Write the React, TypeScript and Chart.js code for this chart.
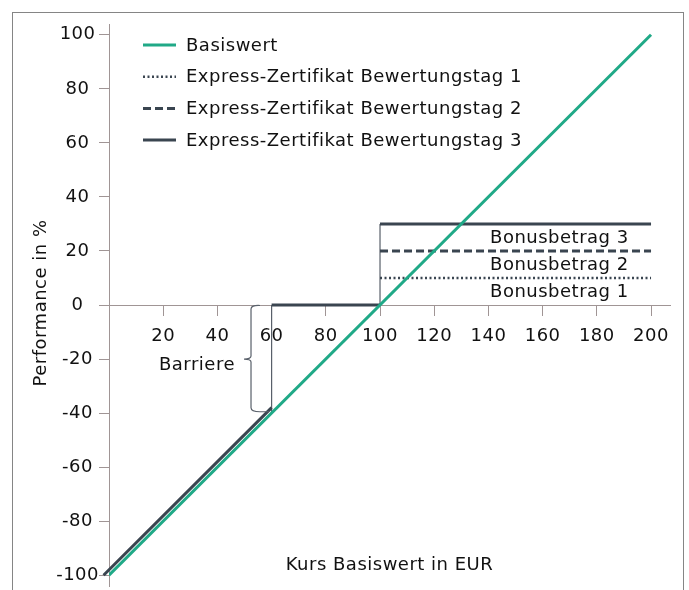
import React, { useEffect, useRef } from 'react';
import { Chart, registerables } from 'chart.js';

Chart.register(...registerables);

// ---- data ----
const seriesLabels = [
  'Basiswert',
  'Express-Zertifikat Bewertungstag 1',
  'Express-Zertifikat Bewertungstag 2',
  'Express-Zertifikat Bewertungstag 3',
];
const basiswert = [
  { x: 0, y: -100 },
  { x: 200, y: 100 },
];
const bewertungstag1 = [
  { x: 100, y: 10 },
  { x: 200, y: 10 },
];
const bewertungstag2 = [
  { x: 100, y: 20 },
  { x: 200, y: 20 },
];
const bewertungstag3 = [
  { x: -2, y: -100 },
  { x: 60, y: -38 },
  { x: 60, y: null },
  { x: 60, y: 0 },
  { x: 100, y: 0 },
  { x: 100, y: null },
  { x: 100, y: 30 },
  { x: 200, y: 30 },
];
const connectors = [
  { x: 60, y: -40 },
  { x: 60, y: 0 },
  { x: 60, y: null },
  { x: 100, y: 0 },
  { x: 100, y: 30 },
];
const xTicks = [20, 40, 60, 80, 100, 120, 140, 160, 180, 200];
const yTicks = [-100, -80, -60, -40, -20, 0, 20, 40, 60, 80, 100];
const bonusLabels = ['Bonusbetrag 1', 'Bonusbetrag 2', 'Bonusbetrag 3'];
const bonusLabelY = [5, 15, 25];
const bonusLabelX = 140.6;
const barrierLabel = 'Barriere';
const barrierBrace = { x: 52.4, top: 0, mid: -20, bottom: -39.5 };
const xTitle = 'Kurs Basiswert in EUR';
const yTitle = 'Performance in %';

// ---- styles ----
const FAMILY = '"DejaVu Sans", Verdana, sans-serif';
const FSIZE = 18;
const TEAL = '#20a987';
const DARK = '#3a4550';
const THIN = '#59606a';
const AXIS = '#a09595';
const TEXT = '#111111';
const LS = '0.5px';

const overlayPlugin = {
  id: 'overlay',
  beforeLayout(chart: any) {
    (chart.ctx as any).letterSpacing = LS;
  },
  beforeDraw(chart: any) {
    (chart.ctx as any).letterSpacing = LS;
  },
  afterDraw(chart: any) {
    const ctx = chart.ctx as CanvasRenderingContext2D;
    const xs = chart.scales.x;
    const ys = chart.scales.y;
    const area = chart.chartArea;
    ctx.save();
    (ctx as any).letterSpacing = LS;
    ctx.font = `${FSIZE}px ${FAMILY}`;
    ctx.fillStyle = TEXT;

    // legend
    const lx0 = area.left + 34;
    const lx1 = lx0 + 33;
    const tx = lx1 + 10;
    const rowTop = area.top + 21;
    const rowGap = 31.7;
    chart.data.datasets.slice(0, 4).forEach((ds: any, i: number) => {
      const y = rowTop + i * rowGap;
      ctx.save();
      ctx.strokeStyle = ds.borderColor;
      ctx.lineWidth = ds.borderWidth;
      ctx.setLineDash(ds.borderDash || []);
      ctx.lineCap = 'butt';
      ctx.beginPath();
      ctx.moveTo(lx0, y);
      ctx.lineTo(lx1, y);
      ctx.stroke();
      ctx.restore();
      ctx.textAlign = 'left';
      ctx.textBaseline = 'middle';
      ctx.fillText(ds.label, tx, y + 1);
    });

    // bonus labels
    ctx.textAlign = 'left';
    ctx.textBaseline = 'middle';
    bonusLabels.forEach((t, i) => {
      ctx.fillText(t, xs.getPixelForValue(bonusLabelX), ys.getPixelForValue(bonusLabelY[i]) + 1);
    });

    // barrier brace
    const bx = xs.getPixelForValue(barrierBrace.x);
    const bt = ys.getPixelForValue(barrierBrace.top);
    const bm = ys.getPixelForValue(barrierBrace.mid);
    const bb = ys.getPixelForValue(barrierBrace.bottom);
    ctx.save();
    ctx.strokeStyle = THIN;
    ctx.lineWidth = 1.2;
    ctx.beginPath();
    ctx.moveTo(bx + 9, bt + 0.5);
    ctx.quadraticCurveTo(bx, bt, bx, bt + 4);
    ctx.lineTo(bx, bm - 3);
    ctx.quadraticCurveTo(bx, bm, bx - 7, bm);
    ctx.moveTo(bx, bm + 3);
    ctx.quadraticCurveTo(bx, bm, bx - 7, bm);
    ctx.moveTo(bx, bm + 3);
    ctx.lineTo(bx, bb - 4);
    ctx.quadraticCurveTo(bx, bb, bx + 9, bb);
    ctx.lineTo(bx + 18, bb);
    ctx.stroke();
    ctx.restore();
    ctx.textAlign = 'right';
    ctx.textBaseline = 'middle';
    ctx.fillText(barrierLabel, bx - 16, bm + 6);

    // axis titles
    ctx.textAlign = 'center';
    ctx.textBaseline = 'middle';
    ctx.fillText(xTitle, (area.left + area.right) / 2 + 0, area.bottom - 21);
    ctx.save();
    ctx.translate(area.left - 68, ys.getPixelForValue(0) - 2);
    ctx.rotate(-Math.PI / 2);
    ctx.fillText(yTitle, 0, 0);
    ctx.restore();

    ctx.restore();
  },
};

export default function App() {
  const ref = useRef<HTMLCanvasElement | null>(null);

  useEffect(() => {
    if (!ref.current) return;
    Chart.defaults.font.family = FAMILY;
    Chart.defaults.font.size = FSIZE;
    Chart.defaults.color = TEXT;

    const chart = new Chart(ref.current, {
      type: 'line',
      data: {
        datasets: [
          {
            label: seriesLabels[0],
            data: basiswert as any,
            borderColor: TEAL,
            backgroundColor: TEAL,
            borderWidth: 3,
            pointRadius: 0,
          },
          {
            label: seriesLabels[1],
            data: bewertungstag1 as any,
            borderColor: DARK,
            backgroundColor: DARK,
            borderWidth: 2.5,
            borderDash: [2, 2.5],
            pointRadius: 0,
          },
          {
            label: seriesLabels[2],
            data: bewertungstag2 as any,
            borderColor: DARK,
            backgroundColor: DARK,
            borderWidth: 3,
            borderDash: [8, 4],
            pointRadius: 0,
          },
          {
            label: seriesLabels[3],
            data: bewertungstag3 as any,
            borderColor: DARK,
            backgroundColor: DARK,
            borderWidth: 3,
            pointRadius: 0,
            clip: false as any,
          },
          {
            label: 'connectors',
            data: connectors as any,
            borderColor: THIN,
            backgroundColor: THIN,
            borderWidth: 1.2,
            pointRadius: 0,
          },
        ],
      },
      options: {
        responsive: false,
        animation: false,
        spanGaps: false,
        layout: { padding: { left: 49, right: 19, top: 24, bottom: 4 } },
        plugins: {
          legend: { display: false },
          tooltip: { enabled: false },
        },
        elements: { line: { tension: 0 } },
        scales: {
          x: {
            type: 'linear',
            min: 0,
            max: 207,
            position: { y: 0 } as any,
            afterBuildTicks: (s: any) => {
              s.ticks = xTicks.map((v) => ({ value: v }));
            },
            afterFit: (s: any) => {
              s.paddingLeft = 0;
              s.paddingRight = 0;
            },
            grid: { drawOnChartArea: false, drawTicks: true, tickLength: 10, color: AXIS },
            border: { display: true, color: AXIS, width: 1 },
            ticks: { color: TEXT, padding: 11, maxRotation: 0, autoSkip: false },
          },
          y: {
            type: 'linear',
            min: -104,
            max: 104,
            position: 'left',
            afterBuildTicks: (s: any) => {
              s.ticks = yTicks.map((v) => ({ value: v }));
            },
            afterFit: (s: any) => {
              s.paddingTop = 0;
              s.paddingBottom = 0;
              s.width = 60;
            },
            grid: { drawOnChartArea: false, drawTicks: true, tickLength: 10, color: AXIS },
            border: { display: true, color: AXIS, width: 1 },
            ticks: { color: TEXT, padding: 0, autoSkip: false, crossAlign: 'center' },
          },
        },
      },
      plugins: [overlayPlugin],
    });
    return () => chart.destroy();
  }, []);

  return (
    <>
      <div
        style={{
          position: 'absolute',
          left: 12,
          top: 12,
          width: 672,
          height: 578,
          border: '1px solid #858585',
          borderBottom: 'none',
          boxSizing: 'border-box',
        }}
      />
      <canvas
        ref={ref}
        width={689}
        height={590}
        style={{ position: 'absolute', left: 0, top: 0, width: 689, height: 590 }}
      />
    </>
  );
}
